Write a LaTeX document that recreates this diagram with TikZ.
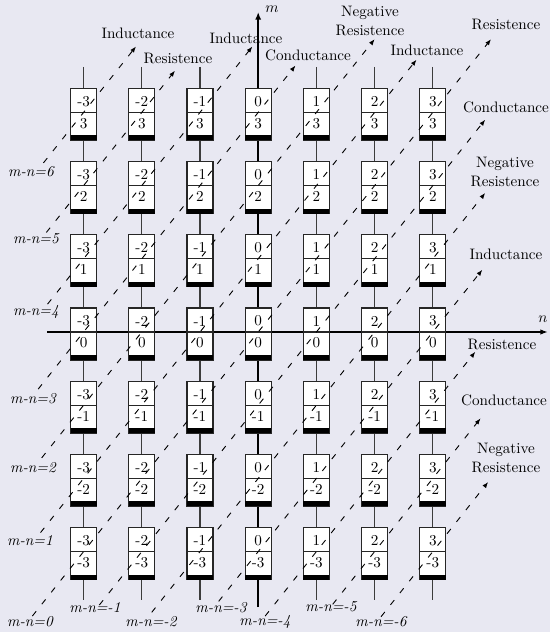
\documentclass[tikz,border=0pt]{standalone}
\usetikzlibrary{arrows.meta}
\definecolor{bgcol}{RGB}{232,232,242}
\definecolor{wirecol}{RGB}{60,60,60}
\begin{document}
\begin{tikzpicture}[x=0.66pt,y=-0.66pt,
  wire/.style={draw=wirecol,line width=0.7pt},
  rbox/.style={draw=black!85,fill=white,line width=0.7pt},
  diag/.style={line width=0.6pt,dash pattern=on 4pt off 6pt,-{Latex[length=4pt,width=3pt]}},
  lbl/.style={inner sep=0pt,align=center},
  mlbl/.style={inner sep=0pt,font=\itshape},
  val/.style={inner sep=0pt}]
\useasboundingbox (0,0) rectangle (550,632);
\fill[bgcol] (0,0) rectangle (550,632);
% wires
\foreach \n in {-3,-2,-1,1,2,3}{
  \coordinate (wt\n) at ({258.2+58.2*\n},67);
  \coordinate (wb\n) at ({258.2+58.2*\n},600);
  \draw[wire] (wt\n) -- (wb\n);
}
% axes
\coordinate (nL) at (47,332);
\coordinate (nR) at (548,332);
\coordinate (mB) at (258.2,607);
\coordinate (mT) at (258.2,12);
\draw[line width=0.9pt,-{Latex[length=5pt,width=3.5pt]}] (nL) -- (nR);
\draw[line width=1.4pt,-{Latex[length=5pt,width=4pt]}] (mB) -- (mT);
\node[inner sep=0pt] (nlab) at (543,319) {$n$};
\node[inner sep=0pt] (mlab) at (272,9) {$m$};
% boxes
\foreach \n in {-3,...,3}{
 \foreach \m in {-3,...,3}{
  \coordinate (g\n m\m) at ({258.2+58.2*\n},{332-73.2*\m});
  \begin{scope}[shift={(g\n m\m)}]
   \draw[rbox] (-13,-24) rectangle (13,28);
   \fill[black] (-13,23) rectangle (13,28);
   \draw[line width=0.7pt,black!85] (-13,0) -- (13,0);
   \node[val] (t\n m\m) at (0,-11) {\n};
   \node[val] (b\n m\m) at (0,11) {\m};
  \end{scope}
 }}
% diagonal lines m-n=k
\foreach \k/\tlo/\thi/\lx/\ly/\ux/\uy/\txt in {
  6/-0.69/0.9/31/172/138/33/{Inductance},
  5/-0.64/0.57/36/239/178/58/{Resistence},
  4/-0.62/0.9/36/312/246/38/{Inductance},
  3/-0.78/0.64/33/399/308/55/{Conductance},
  2/-0.72/1.0/33/468/370/21/{Negative\\Resistence},
  1/-0.74/0.72/30/541/427/50/{Inductance},
  0/-0.88/1.0/30/622/506/24/{Resistence},
  -1/-0.73/0.9/95/608/506/107/{Conductance},
  -2/-0.83/0.9/151/622/505/172/{Negative\\Resistence},
  -3/-0.68/0.85/221/608/506/254/{Inductance},
  -4/-0.88/0.73/265/622/502/344/{Resistence},
  -5/-0.72/0.82/331/607/504/400/{Conductance},
  -6/-0.89/0.95/381/622/506/458/{Negative\\Resistence}}{
  \pgfmathsetmacro\nlo{ifthenelse(\k>0,-3+\tlo,-3-(\k)+\tlo)}
  \pgfmathsetmacro\nhi{ifthenelse(\k>0,3-(\k)+\thi,3+\thi)}
  \coordinate (s\k) at ({258.2+58.2*\nlo},{332-73.2*(\nlo+(\k))});
  \coordinate (e\k) at ({258.2+58.2*\nhi},{332-73.2*(\nhi+(\k))});
  \draw[diag] (s\k) -- (e\k);
  \node[mlbl] (l\k) at (\lx,\ly) {m-n=\k};
  \node[lbl] (u\k) at (\ux,\uy) {\txt};
}
\end{tikzpicture}
\end{document}
